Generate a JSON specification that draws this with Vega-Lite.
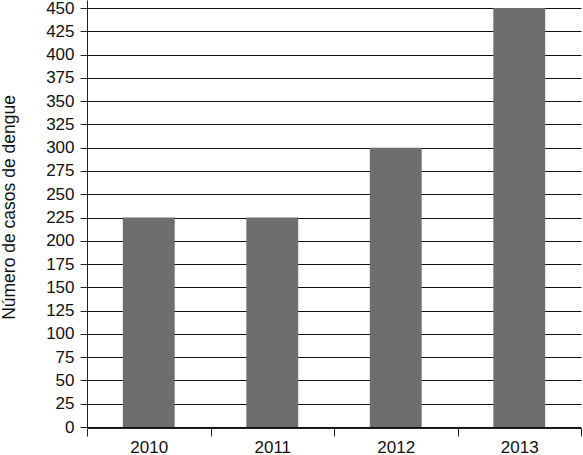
{
  "$schema": "https://vega.github.io/schema/vega-lite/v6.json",
  "autosize": "none",
  "width": 494,
  "height": 427,
  "padding": {"left": 87, "top": 0, "right": 2, "bottom": 28},
  "background": "white",
  "config": {"view": {"stroke": null}, "font": "Liberation Sans"},
  "data": {"values": [
    {"ano": "2010", "casos": 225},
    {"ano": "2011", "casos": 225},
    {"ano": "2012", "casos": 300},
    {"ano": "2013", "casos": 450}
  ]},
  "mark": {"type": "bar", "color": "#6d6e70", "width": {"band": 0.42}},
  "encoding": {
    "x": {
      "field": "ano", "type": "nominal",
      "scale": {"paddingInner": 0, "paddingOuter": 0},
      "axis": {
        "title": null, "labelAngle": 0, "tickBand": "extent",
        "domainColor": "#222", "tickColor": "#222", "tickSize": 8, "offset": 1,
        "labelFontSize": 17, "labelColor": "#111", "labelPadding": 3
      }
    },
    "y": {
      "field": "casos", "type": "quantitative",
      "scale": {"domain": [0, 458.6], "nice": false},
      "axis": {
        "title": "Número de casos de dengue",
        "values": [0,25,50,75,100,125,150,175,200,225,250,275,300,325,350,375,400,425,450],
        "grid": true, "gridColor": "#111", "gridOpacity": 1,
        "domainColor": "#222", "tickColor": "#222", "tickSize": 7,
        "labelFontSize": 17, "labelColor": "#111", "labelPadding": 6,
        "titleFontSize": 17.5, "titleFontWeight": "normal", "titleColor": "#111",
        "titlePadding": 27, "titleY": 207
      }
    }
  }
}
